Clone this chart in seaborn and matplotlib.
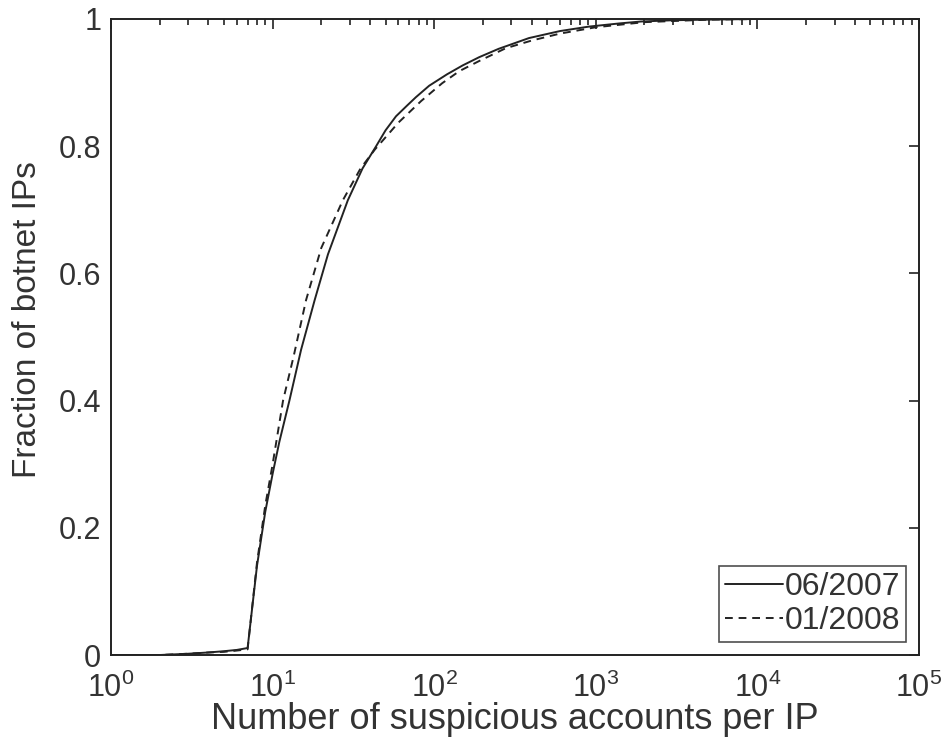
import numpy as np
import pandas as pd
import matplotlib
matplotlib.use("Agg")
import matplotlib.pyplot as plt
import seaborn as sns
from matplotlib.ticker import LogLocator, NullFormatter

# ---- data ----
x_2007 = [1, 2, 3, 4, 5, 6, 7, 8, 9, 10, 11, 12.7, 15, 18.2, 22, 29.2, 36,
          43.7, 50, 58, 68, 77, 93, 120, 150, 190, 250, 386, 600, 905, 1400,
          1900, 3000, 5000, 10000, 100000]
y_2007 = [0.0, 0.0, 0.002, 0.004, 0.006, 0.008, 0.011, 0.14, 0.225, 0.285,
          0.335, 0.40, 0.48, 0.558, 0.63, 0.715, 0.765, 0.80, 0.825, 0.847,
          0.864, 0.877, 0.895, 0.913, 0.927, 0.940, 0.953, 0.970, 0.981,
          0.988, 0.993, 0.996, 0.998, 0.999, 1.0, 1.0]

x_2008 = [1, 2, 3, 4, 5, 6, 7, 8, 9, 10, 11.6, 13.5, 16.1, 20, 27.2, 35, 43,
          60, 83, 112, 143, 190, 277, 400, 600, 1000, 2000, 5000, 10000, 100000]
y_2008 = [0.0, 0.0, 0.002, 0.004, 0.005, 0.007, 0.009, 0.145, 0.235, 0.30,
          0.40, 0.47, 0.558, 0.64, 0.715, 0.765, 0.795, 0.837, 0.871, 0.899,
          0.918, 0.934, 0.954, 0.966, 0.977, 0.987, 0.995, 0.999, 1.0, 1.0]

series_names = ["06/2007", "01/2008"]
x_label = "Number of suspicious accounts per IP"
y_label = "Fraction of botnet IPs"
y_ticks = [0, 0.2, 0.4, 0.6, 0.8, 1]
y_ticklabels = ["0", "0.2", "0.4", "0.6", "0.8", "1"]

df = pd.concat([
    pd.DataFrame({"x": x_2007, "y": y_2007, "series": series_names[0]}),
    pd.DataFrame({"x": x_2008, "y": y_2008, "series": series_names[1]}),
], ignore_index=True)

sns.set_style("white")
plt.rcParams["font.family"] = ["Liberation Sans", "DejaVu Sans"]
plt.rcParams["mathtext.default"] = "regular"
plt.rcParams["mathtext.fontset"] = "custom"
plt.rcParams["mathtext.rm"] = "Liberation Sans"
plt.rcParams["mathtext.it"] = "Liberation Sans"

TXT = "#333333"

fig = plt.figure(figsize=(9.45, 7.44), dpi=100)
ax = fig.add_axes([0.1175, 0.1196, 0.855, 0.8549])

sns.lineplot(data=df, x="x", y="y", hue="series", style="series",
             palette={series_names[0]: "#222222", series_names[1]: "#222222"},
             dashes={series_names[0]: "", series_names[1]: (4, 3)},
             linewidth=1.4, ax=ax, sort=False, estimator=None)

ax.set_xscale("log")
ax.set_xlim(1, 1e5)
ax.set_ylim(0, 1)
ax.set_yticks(y_ticks)
ax.set_yticklabels(y_ticklabels)
ax.xaxis.set_major_locator(LogLocator(base=10, numticks=10))
ax.xaxis.set_minor_locator(LogLocator(base=10, subs=np.arange(2, 10), numticks=100))
ax.xaxis.set_minor_formatter(NullFormatter())

ax.tick_params(which="both", direction="in", top=True, right=True,
               labelsize=22, colors="#222222", labelcolor=TXT, width=1.2)
ax.tick_params(which="major", length=7, pad=7)
ax.tick_params(axis="x", which="major", pad=13)
ax.tick_params(which="minor", length=4)

for s in ax.spines.values():
    s.set_visible(True)
    s.set_color("#222222")
    s.set_linewidth(1.4)

ax.set_xlabel(x_label, fontsize=26, color=TXT, labelpad=-2)
ax.set_ylabel(y_label, fontsize=24, color=TXT)
ax.yaxis.set_label_coords(-0.084, 0.527)

leg = ax.legend(loc="lower right", fontsize=23, frameon=True, fancybox=False,
                edgecolor="#222222", handlelength=1.8, handletextpad=0.05,
                borderpad=0.2, labelspacing=0.12, borderaxespad=0.4,
                title=None)
leg.get_frame().set_linewidth(1.2)
for t in leg.get_texts():
    t.set_color(TXT)

fig.savefig("out.png", dpi=100, facecolor="white")
